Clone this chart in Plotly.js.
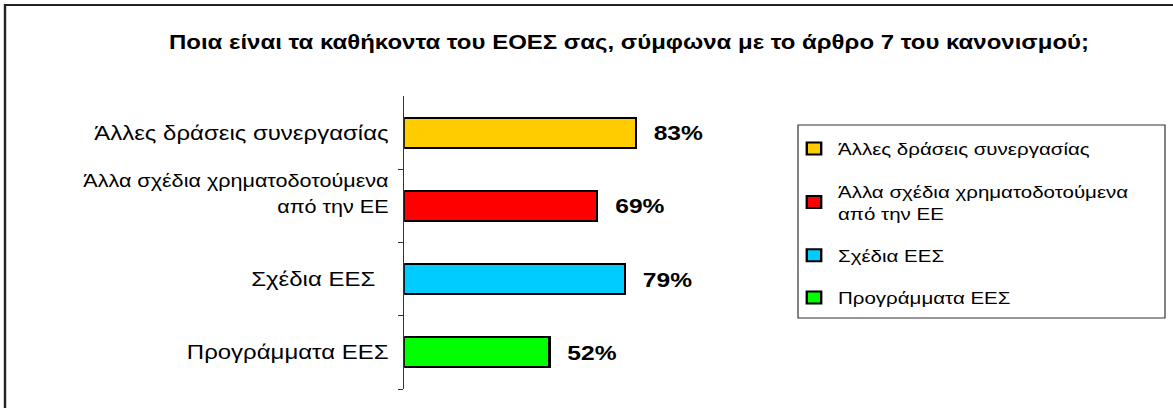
<!DOCTYPE html>
<html>
<head>
<meta charset="utf-8">
<script src="https://cdn.plot.ly/plotly-3.0.1.min.js"></script>
<style>
html,body{margin:0;padding:0;background:#fff;overflow:hidden;}
#wrap{width:1173px;height:408px;overflow:hidden;}
/* the reference chart is rendered with horizontally widened glyphs */
#chart{width:978px;height:408px;transform:scaleX(1.19939);transform-origin:0 0;}
</style>
</head>
<body>
<div id="wrap"><div id="chart"></div></div>
<script>
// Data (top to bottom as in the chart)
const categories = [
  "Άλλες δράσεις συνεργασίας",
  "Άλλα σχέδια χρηματοδοτούμενα από την ΕΕ",
  "Σχέδια ΕΕΣ",
  "Προγράμματα ΕΕΣ"
];
const tickLabels = [
  "Άλλες δράσεις συνεργασίας",
  "<span style=\"font-size:18px\">Άλλα σχέδια χρηματοδοτούμενα<br>από την ΕΕ<br>\u00a0</span>",
  "Σχέδια ΕΕΣ\u00a0\u00a0",
  "Προγράμματα ΕΕΣ"
];
const legendNames = [
  "Άλλες δράσεις συνεργασίας",
  "Άλλα σχέδια χρηματοδοτούμενα<br>από την ΕΕ",
  "Σχέδια ΕΕΣ",
  "Προγράμματα ΕΕΣ"
];
const values = [83, 69, 79, 52];
const valueLabels = ["83%", "69%", "79%", "52%"];
const colors = ["#FFCC00", "#FF0000", "#00CCFF", "#00FF00"];

const FONT = "Arial, 'Liberation Sans', sans-serif";

const traces = categories.map((c, i) => ({
  type: "bar",
  orientation: "h",
  x: [values[i]],
  y: [c],
  name: legendNames[i],
  legendgroup: "g" + i,
  marker: {color: colors[i], line: {color: "#000", width: 2}},
  width: 0.41,
  hoverinfo: "x+y"
}));

// Plot area geometry (unscaled layout pixels; page is widened by S)
const S = 1173 / 978;
const W = 978, H = 408;
const L = 337, R = 570, T = 96, B = 389;
const px = v => (v / S - L) / (R - L);   // v in page pixels
const py = v => (B - v) / (B - T);

const annotations = categories.map((c, i) => ({
  x: values[i], y: c, xref: "x", yref: "y",
  text: valueLabels[i], showarrow: false,
  xanchor: "left", yanchor: "middle", xshift: 13,
  font: {family: FONT, size: 20.5, color: "#000", weight: "bold"}
}));

const layout = {
  width: W, height: H,
  margin: {l: L, r: W - R, t: T, b: H - B, pad: 0},
  paper_bgcolor: "#fff", plot_bgcolor: "#fff",
  barmode: "stack",
  font: {family: FONT, color: "#000"},
  title: {
    text: "<b>Ποια είναι τα καθήκοντα του ΕΟΕΣ σας, σύμφωνα με το άρθρο 7 του κανονισμού;</b>",
    font: {family: FONT, size: 20, color: "#000"},
    x: (629 / S) / W, xref: "container", xanchor: "center",
    y: 1 - 42 / H, yref: "container", yanchor: "middle"
  },
  xaxis: {range: [0, 100], visible: false, fixedrange: true},
  yaxis: {
    type: "category",
    categoryorder: "array",
    categoryarray: categories.slice().reverse(),
    tickvals: categories, ticktext: tickLabels,
    range: [-0.5, 3.5],
    showline: true, linecolor: "#333", linewidth: 1,
    ticks: "outside", ticklen: 4, tickcolor: "#333", tickwidth: 1,
    tickson: "boundaries",
    ticklabelstandoff: 8,
    showgrid: false, zeroline: false,
    tickfont: {family: FONT, size: 20, color: "#000"},
    fixedrange: true
  },
  showlegend: true,
  legend: {
    x: px(790), y: py(131), xanchor: "left", yanchor: "top",
    bgcolor: "rgba(0,0,0,0)", borderwidth: 0,
    font: {family: FONT, size: 17.1, color: "#000"},
    traceorder: "grouped", tracegroupgap: 17,
    itemclick: false, itemdoubleclick: false
  },
  annotations: annotations,
  shapes: [
    // legend frame
    {type: "rect", xref: "paper", yref: "paper",
     x0: px(798), x1: px(1165), y0: py(318), y1: py(125),
     line: {color: "#333", width: 1}, fillcolor: "rgba(0,0,0,0)"},
    // outer chart frame (top and left edges visible)
    {type: "path", xref: "paper", yref: "paper",
     path: `M ${px(5)} ${py(430)} L ${px(5)} ${py(5)} L ${px(1200)} ${py(5)}`,
     line: {color: "#222", width: 2}}
  ]
};

Plotly.newPlot("chart", traces, layout, {displayModeBar: false});
</script>
</body>
</html>
